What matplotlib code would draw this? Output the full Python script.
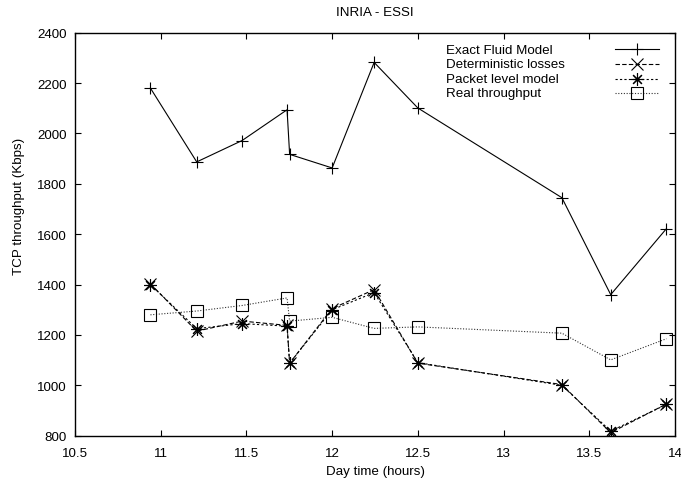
import matplotlib
matplotlib.use("Agg")
import matplotlib.pyplot as plt
from matplotlib.lines import Line2D
from matplotlib.ticker import FuncFormatter, MultipleLocator

# Measurement times (hours of the day)
DAY_TIME = [10.94, 11.21, 11.475, 11.737, 11.752, 12.0, 12.245, 12.5, 13.34, 13.625, 13.95]

# TCP throughput (Kbps)
EXACT_FLUID = [2180, 1887, 1972, 2094, 1917, 1863, 2282, 2101, 1745, 1360, 1622]
DETERMINISTIC = [1403, 1215, 1255, 1238, 1088, 1305, 1380, 1088, 1003, 812, 926]
PACKET_LEVEL = [1400, 1225, 1245, 1235, 1088, 1300, 1368, 1090, 1000, 818, 924]
REAL_THROUGHPUT = [1280, 1295, 1317, 1347, 1255, 1270, 1226, 1232, 1207, 1101, 1185]

LABELS = ["Exact Fluid Model", "Deterministic losses", "Packet level model", "Real throughput"]

FS = 9.6
plt.rcParams.update({
    "font.family": ["Liberation Sans", "DejaVu Sans"],
    "font.size": FS,
})

fig = plt.figure(figsize=(6.81, 4.81), dpi=100, facecolor="white")
ax = fig.add_axes([75 / 681, 1 - 436.7 / 481, 600 / 681, 403 / 481])

lw = 0.8
mew = 0.8
h_fluid, = ax.plot(DAY_TIME, EXACT_FLUID, color="black", lw=lw, marker="+", ms=9, mew=mew)
h_det, = ax.plot(DAY_TIME, DETERMINISTIC, color="black", lw=lw, ls=(0, (4, 2)),
                 marker="x", ms=8, mew=mew)
h_pkt, = ax.plot(DAY_TIME, PACKET_LEVEL, color="black", lw=lw, ls=(0, (2, 2)),
                 marker=(8, 2, 0), ms=9, mew=mew)
h_real, = ax.plot(DAY_TIME, REAL_THROUGHPUT, color="#333333", lw=lw, ls=(0, (1, 1.5)),
                  marker="s", ms=9, mew=mew, mfc="none", mec="black")

ax.set_xlim(10.5, 14)
ax.set_ylim(800, 2400)
ax.xaxis.set_major_locator(MultipleLocator(0.5))
ax.yaxis.set_major_locator(MultipleLocator(200))
ax.xaxis.set_major_formatter(FuncFormatter(lambda v, p: f"{v:g}"))
ax.tick_params(direction="in", length=4, width=0.8, top=True, right=True, labelsize=FS)
ax.tick_params(axis="x", pad=8)
ax.tick_params(axis="y", pad=6)
for spine in ax.spines.values():
    spine.set_linewidth(1.0)

ax.set_xlabel("Day time (hours)", fontsize=FS, va="center")
ax.xaxis.set_label_coords(0.5, -(471.7 - 436.7) / 403)
ax.set_ylabel("TCP throughput (Kbps)", fontsize=FS, va="center")
ax.yaxis.set_label_coords((19.3 - 75) / 600, 1 - (206 - 33.7) / 403)
fig.text(375 / 681, 1 - 13.3 / 481, "INRIA - ESSI", ha="center", va="center", fontsize=FS)

# gnuplot-style key: left-aligned labels, samples on the right
handles = [h_fluid, h_det, h_pkt, h_real]
blank = [Line2D([], [], color="none") for _ in handles]
text_leg = ax.legend(blank, LABELS, loc="upper left", bbox_to_anchor=(0.618, 0.974),
                     frameon=False, handlelength=0, handletextpad=0, borderpad=0,
                     borderaxespad=0, labelspacing=0.17, fontsize=FS)
ax.add_artist(text_leg)
ax.legend(handles, [""] * 4, loc="upper right", bbox_to_anchor=(0.973, 0.970),
          frameon=False, markerfirst=False, handlelength=3.3, handletextpad=0,
          borderpad=0, borderaxespad=0, labelspacing=0.17, fontsize=FS)

fig.savefig("out.png", dpi=100)
